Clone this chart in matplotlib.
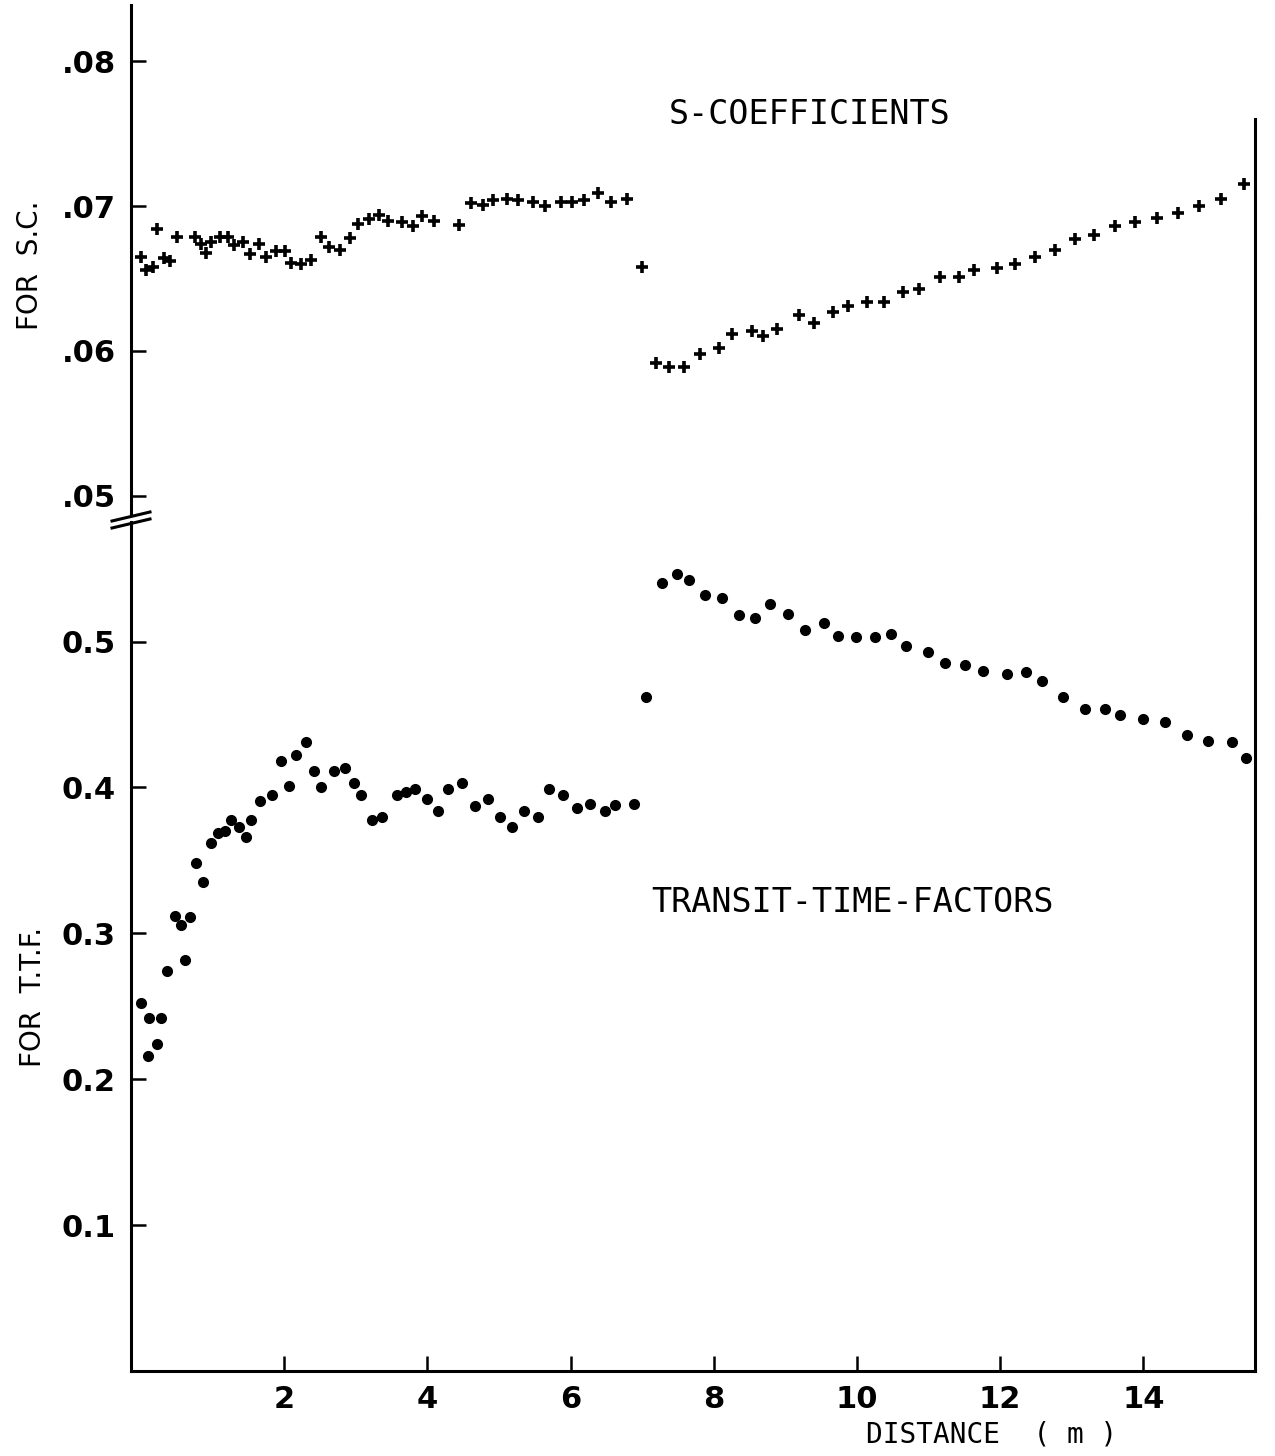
import matplotlib
matplotlib.use('Agg')
import matplotlib.pyplot as plt
from matplotlib.lines import Line2D

# S-coefficients (upper panel), distance in m
s_dist = [0.0, 0.07, 0.17, 0.22, 0.32, 0.41, 0.50, 0.75, 0.84, 0.91,
          0.98, 1.10, 1.21, 1.30, 1.43, 1.52, 1.65, 1.75, 1.88, 2.01,
          2.09, 2.24, 2.38, 2.51, 2.63, 2.78, 2.92, 3.03, 3.18, 3.32,
          3.45, 3.65, 3.80, 3.92, 4.09, 4.44, 4.61, 4.78, 4.92, 5.11,
          5.27, 5.47, 5.64, 5.87, 6.02, 6.19, 6.39, 6.56, 6.79, 7.00,
          7.20, 7.38, 7.58, 7.81, 8.08, 8.26, 8.53, 8.69, 8.89, 9.19,
          9.40, 9.67, 9.88, 10.14, 10.38, 10.64, 10.87, 11.16, 11.43, 11.64,
          11.96, 12.21, 12.49, 12.76, 13.04, 13.31, 13.61, 13.89, 14.19, 14.48,
          14.78, 15.08, 15.41]
s_coeff = [.0665, .0656, .0658, .0684, .0664, .0662, .0679, .0679, .0674, .0668,
           .0675, .0679, .0679, .0673, .0675, .0667, .0674, .0665, .0669, .0669,
           .0661, .0660, .0663, .0679, .0672, .0670, .0678, .0688, .0691, .0694,
           .0690, .0689, .0686, .0693, .0690, .0687, .0702, .0701, .0704, .0705,
           .0704, .0703, .0700, .0703, .0703, .0704, .0709, .0703, .0705, .0658,
           .0592, .0589, .0589, .0598, .0602, .0612, .0614, .0610, .0615, .0625,
           .0619, .0627, .0631, .0634, .0634, .0641, .0643, .0651, .0651, .0656,
           .0657, .0660, .0665, .0670, .0677, .0680, .0686, .0689, .0692, .0695,
           .0700, .0705, .0715]

# transit-time-factors (lower panel)
ttf_dist = [0.0, 0.10, 0.11, 0.22, 0.28, 0.36, 0.48, 0.56, 0.61, 0.69,
            0.77, 0.86, 0.98, 1.07, 1.17, 1.26, 1.37, 1.46, 1.53, 1.66,
            1.83, 1.96, 2.06, 2.16, 2.31, 2.41, 2.52, 2.69, 2.85, 2.98,
            3.07, 3.22, 3.37, 3.57, 3.70, 3.83, 3.99, 4.15, 4.29, 4.49,
            4.66, 4.84, 5.01, 5.18, 5.35, 5.54, 5.70, 5.89, 6.09, 6.27,
            6.48, 6.62, 6.88, 7.05, 7.28, 7.48, 7.65, 7.88, 8.11, 8.35,
            8.57, 8.78, 9.03, 9.28, 9.54, 9.73, 9.98, 10.25, 10.47, 10.69,
            10.99, 11.23, 11.51, 11.76, 12.10, 12.36, 12.59, 12.88, 13.19, 13.46,
            13.68, 13.99, 14.30, 14.61, 14.91, 15.24, 15.44]
ttf = [0.252, 0.216, 0.242, 0.224, 0.242, 0.274, 0.312, 0.306, 0.282, 0.311,
       0.348, 0.335, 0.362, 0.369, 0.370, 0.378, 0.373, 0.366, 0.378, 0.391,
       0.395, 0.418, 0.401, 0.422, 0.431, 0.411, 0.400, 0.411, 0.413, 0.403,
       0.395, 0.378, 0.380, 0.395, 0.397, 0.399, 0.392, 0.384, 0.399, 0.403,
       0.387, 0.392, 0.380, 0.373, 0.384, 0.380, 0.399, 0.395, 0.386, 0.389,
       0.384, 0.388, 0.389, 0.462, 0.540, 0.546, 0.542, 0.532, 0.530, 0.518,
       0.516, 0.526, 0.519, 0.508, 0.513, 0.504, 0.503, 0.503, 0.505, 0.497,
       0.493, 0.485, 0.484, 0.480, 0.478, 0.479, 0.473, 0.462, 0.454, 0.454,
       0.450, 0.447, 0.445, 0.436, 0.432, 0.431, 0.420]

x_ticks = [2, 4, 6, 8, 10, 12, 14]
sc_ticks = [0.05, 0.06, 0.07, 0.08]
sc_tick_labels = ['.05', '.06', '.07', '.08']
ttf_ticks = [0.1, 0.2, 0.3, 0.4, 0.5]
ttf_tick_labels = ['0.1', '0.2', '0.3', '0.4', '0.5']

W, H = 1275, 1456
plt.rcParams['font.family'] = 'DejaVu Sans'
fig = plt.figure(figsize=(W / 100, H / 100), dpi=100)


def px_box(left, top, right, bottom):
    return [left / W, 1 - bottom / H, (right - left) / W, (bottom - top) / H]


ax_top = fig.add_axes(px_box(131, 5, 1255, 518))
ax_bot = fig.add_axes(px_box(131, 518, 1255, 1371))

LW = 2.2
for ax in (ax_top, ax_bot):
    ax.set_xlim(-0.14, 15.56)
    ax.spines['top'].set_visible(False)
    for side in ('left', 'right', 'bottom'):
        ax.spines[side].set_linewidth(LW)
    ax.tick_params(axis='y', direction='in', length=11, width=1.8,
                   labelsize=22, pad=11, right=False)

ax_top.set_ylim(0.04846, 0.0839)
ax_top.spines['bottom'].set_visible(False)
ax_top.spines['right'].set_bounds(0.04846, 0.0760)
ax_top.spines['left'].set_bounds(0.0487, 0.0839)
ax_top.set_xticks([])
ax_top.set_yticks(sc_ticks)
ax_top.set_yticklabels(sc_tick_labels, fontweight='bold')

ax_bot.set_ylim(0, 0.5847)
ax_bot.spines['left'].set_bounds(0, 0.5820)
ax_bot.set_xticks(x_ticks)
ax_bot.set_xticklabels([str(t) for t in x_ticks], fontweight='bold')
ax_bot.tick_params(axis='x', direction='in', length=11, width=1.8,
                   labelsize=22, pad=10)
ax_bot.set_yticks(ttf_ticks)
ax_bot.set_yticklabels(ttf_tick_labels, fontweight='bold')

ax_top.plot(s_dist, s_coeff, linestyle='none', marker='+', color='black',
            markersize=9, markeredgewidth=2.6)
ax_bot.plot(ttf_dist, ttf, linestyle='none', marker='o', color='black',
            markersize=7)

# axis break marks
for y0 in (521, 528):
    fig.add_artist(Line2D([112 / W, 150 / W], [1 - y0 / H, 1 - (y0 - 9) / H],
                          transform=fig.transFigure, color='black', linewidth=2.2))

mono = 'DejaVu Sans Mono'
fig.text(810 / W, 1 - 115 / H, 'S-COEFFICIENTS', family=mono, fontsize=24,
         ha='center', va='center')
fig.text(852 / W, 1 - 902 / H, 'TRANSIT-TIME-FACTORS', family=mono, fontsize=24,
         ha='center', va='center')
fig.text(992 / W, 1 - 1434 / H, 'DISTANCE  ( m )', family=mono, fontsize=20,
         ha='center', va='center')
fig.text(30 / W, 1 - 265 / H, 'FOR  S.C.', fontsize=20, rotation=90,
         ha='center', va='center')
fig.text(33 / W, 1 - 997 / H, 'FOR  T.T.F.', fontsize=20, rotation=90,
         ha='center', va='center')

fig.savefig('out.png', dpi=100)
